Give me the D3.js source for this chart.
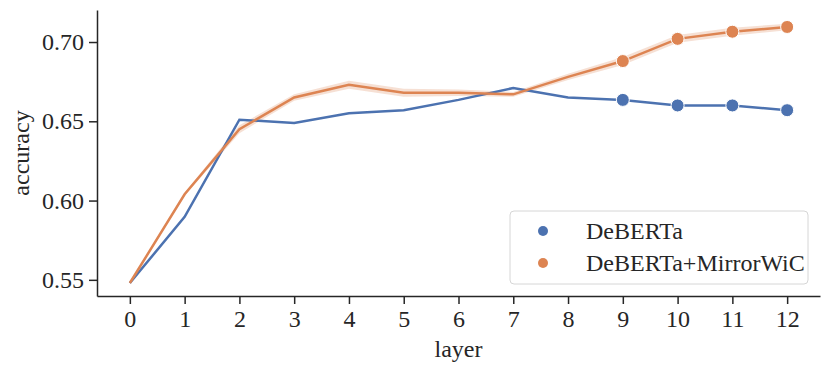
<!DOCTYPE html>
<html>
<head>
<meta charset="utf-8">
<script src="https://cdn.jsdelivr.net/npm/d3@7"></script>
<style>
 body { margin: 0; background: #fff; }
 text { font-family: "Liberation Serif", "DejaVu Serif", serif; fill: #262626; }
</style>
</head>
<body>
<svg id="chart" width="831" height="373"></svg>
<script>
// layers and accuracy per series
var layers = [0, 1, 2, 3, 4, 5, 6, 7, 8, 9, 10, 11, 12];
var deberta = [0.548, 0.5897, 0.651, 0.649, 0.655, 0.657, 0.6635, 0.671, 0.665, 0.6635, 0.660, 0.660, 0.657];
var mirror = [0.548, 0.604, 0.645, 0.665, 0.673, 0.668, 0.668, 0.667, 0.678, 0.688, 0.702, 0.7065, 0.7095];
var mirrorErr = [0.0005, 0.001, 0.0025, 0.002, 0.0025, 0.0025, 0.002, 0.0015, 0.002, 0.0025, 0.0025, 0.0025, 0.002];
var markedLayers = [9, 10, 11, 12];
var yTicks = [0.55, 0.60, 0.65, 0.70];
var seriesNames = ["DeBERTa", "DeBERTa+MirrorWiC"];
var colors = ["#4c72b0", "#dd8452"];

var svg = d3.select("#chart");
var mLeft = 97, mRight = 820, mTop = 10, mBottom = 296;

var x = d3.scaleLinear().domain([-0.6, 12.6]).range([mLeft, mRight]);
var y = d3.scaleLinear().domain([0.5398, 0.7202]).range([mBottom, mTop]);

// axes
var xAxis = svg.append("g").attr("transform", "translate(0," + mBottom + ")")
  .call(d3.axisBottom(x).tickValues(layers).tickFormat(d3.format("d")).tickSize(8).tickPadding(3).tickSizeOuter(0));
var yAxis = svg.append("g").attr("transform", "translate(" + mLeft + ",0)")
  .call(d3.axisLeft(y).tickValues(yTicks).tickFormat(d3.format(".2f")).tickSize(8).tickPadding(5).tickSizeOuter(0));
[xAxis, yAxis].forEach(function(a) {
  a.select(".domain").attr("stroke", "#262626").attr("stroke-width", 1.5);
  a.selectAll(".tick line").attr("stroke", "#262626").attr("stroke-width", 1.5);
  a.selectAll(".tick text").attr("font-size", 24).attr("fill", "#262626")
   .style("font-family", "Liberation Serif, serif");
});
xAxis.selectAll(".tick text").attr("dy", "0.85em");

svg.append("text").attr("x", (mLeft + mRight) / 2).attr("y", 357)
  .attr("text-anchor", "middle").attr("font-size", 24).text("layer");
svg.append("text").attr("transform", "translate(29," + ((mTop + mBottom) / 2) + ") rotate(-90)")
  .attr("text-anchor", "middle").attr("font-size", 24).text("accuracy");

// confidence band for orange
var band = d3.area()
  .x(function(d, i) { return x(layers[i]); })
  .y0(function(d, i) { return y(d - mirrorErr[i]); })
  .y1(function(d, i) { return y(d + mirrorErr[i]); });
svg.append("path").datum(mirror).attr("d", band)
  .attr("fill", colors[1]).attr("fill-opacity", 0.25);

var line = d3.line().x(function(d, i) { return x(layers[i]); }).y(function(d) { return y(d); });
[deberta, mirror].forEach(function(s, k) {
  svg.append("path").datum(s).attr("d", line)
    .attr("fill", "none").attr("stroke", colors[k]).attr("stroke-width", 2.5);
});
[deberta, mirror].forEach(function(s, k) {
  svg.selectAll(".dot" + k).data(markedLayers).enter().append("circle")
    .attr("cx", function(d) { return x(d); })
    .attr("cy", function(d) { return y(s[layers.indexOf(d)]); })
    .attr("r", 6.5).attr("fill", colors[k])
    .attr("stroke", "#fff").attr("stroke-width", 1);
});

// legend
var lg = svg.append("g").attr("transform", "translate(510,211)");
lg.append("rect").attr("width", 298).attr("height", 73).attr("rx", 4)
  .attr("fill", "#fff").attr("fill-opacity", 0.8).attr("stroke", "#d6d6d6").attr("stroke-width", 1);
seriesNames.forEach(function(n, k) {
  lg.append("circle").attr("cx", 33).attr("cy", 20 + k * 32).attr("r", 5).attr("fill", colors[k]);
  lg.append("text").attr("x", 76).attr("y", 20 + k * 32).attr("dy", "0.35em")
    .attr("font-size", 24).text(n);
});
</script>
</body>
</html>
